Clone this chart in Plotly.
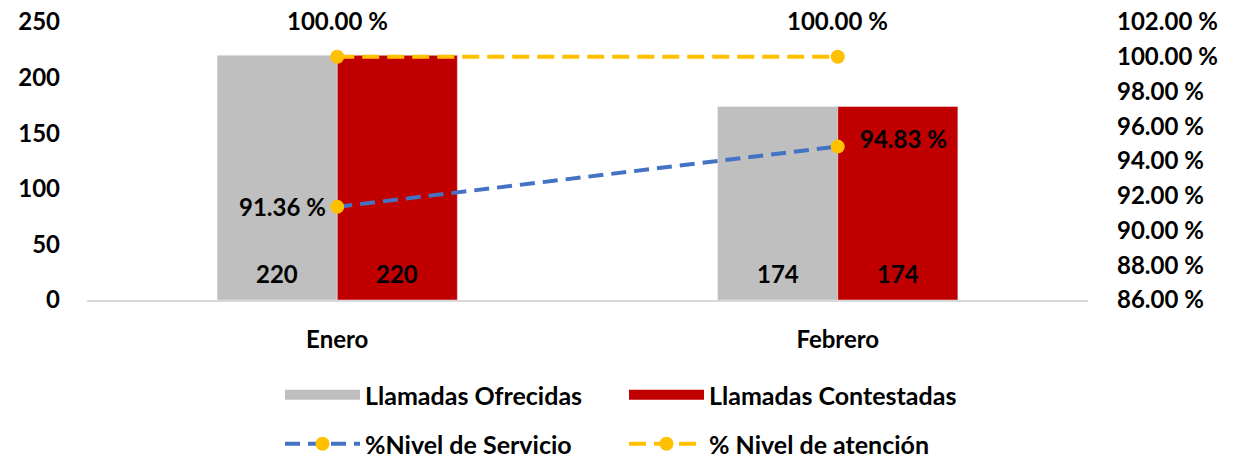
import plotly.graph_objects as go

categories = ["Enero", "Febrero"]
llamadas_ofrecidas = [220, 174]
llamadas_contestadas = [220, 174]
nivel_servicio = [91.36, 94.83]
nivel_atencion = [100.00, 100.00]
right_ticks = [86, 88, 90, 92, 94, 96, 98, 100, 102]

FONT = "Lato, Roboto, sans-serif"
GREY = "#BFBFBF"
RED = "#C00000"
BLUE = "#4472C4"
YELLOW = "#FFC000"
TXT = dict(family=FONT, size=24, color="black", weight="bold")
LEG = dict(family=FONT, size=25, color="black", weight="bold")

fig = go.Figure()
fig.add_trace(go.Bar(
    x=categories, y=llamadas_ofrecidas, name="Llamadas Ofrecidas",
    marker_color=GREY, showlegend=False,
))
fig.add_trace(go.Bar(
    x=categories, y=llamadas_contestadas, name="Llamadas Contestadas",
    marker_color=RED, showlegend=False,
))
# legend swatches for the bar series (wide rectangles like the reference)
fig.add_trace(go.Scatter(
    x=[None], y=[None], mode="lines", name="Llamadas Ofrecidas",
    line=dict(color=GREY, width=14), legend="legend", hoverinfo="skip",
))
fig.add_trace(go.Scatter(
    x=[None], y=[None], mode="lines", name="Llamadas Contestadas",
    line=dict(color=RED, width=14), legend="legend", hoverinfo="skip",
))
fig.add_trace(go.Scatter(
    x=categories, y=nivel_servicio, name="%Nivel de Servicio", yaxis="y2",
    mode="lines+markers", line=dict(color=BLUE, width=4, dash="15px,8px"),
    marker=dict(color=YELLOW, size=14), legend="legend2",
))
fig.add_trace(go.Scatter(
    x=categories, y=nivel_atencion, name="% Nivel de atención", yaxis="y2",
    mode="lines+markers", line=dict(color=YELLOW, width=4, dash="17px,8px"),
    marker=dict(color=YELLOW, size=14), legend="legend2",
))

annotations = []
for c, v1, v2 in zip(categories, llamadas_ofrecidas, llamadas_contestadas):
    annotations.append(dict(x=c, y=0, xref="x", yref="y", text=str(v1),
                            showarrow=False, xshift=-60, yshift=27,
                            xanchor="center", yanchor="middle", font=TXT))
    annotations.append(dict(x=c, y=0, xref="x", yref="y", text=str(v2),
                            showarrow=False, xshift=60, yshift=27,
                            xanchor="center", yanchor="middle", font=TXT))
for c, v in zip(categories, nivel_atencion):
    annotations.append(dict(x=c, y=v, xref="x", yref="y2", text=f"{v:.2f} %",
                            showarrow=False, yshift=36, xanchor="center",
                            font=TXT))
annotations.append(dict(x=categories[0], y=nivel_servicio[0], xref="x", yref="y2",
                        text=f"{nivel_servicio[0]:.2f} %", showarrow=False,
                        xanchor="right", xshift=-9, yshift=0, font=TXT))
annotations.append(dict(x=categories[1], y=nivel_servicio[1], xref="x", yref="y2",
                        text=f"{nivel_servicio[1]:.2f} %", showarrow=False,
                        xanchor="left", xshift=20, yshift=8, font=TXT))

fig.update_layout(
    width=1244, height=457,
    margin=dict(l=87, r=156, t=22, b=157, autoexpand=False),
    paper_bgcolor="white", plot_bgcolor="white",
    barmode="group", bargap=0.52, bargroupgap=0,
    font=TXT,
    xaxis=dict(showgrid=False, showline=True, linecolor="#D9D9D9", linewidth=2,
               ticks="", ticklabelstandoff=17, tickfont=TXT),
    yaxis=dict(range=[0, 250], dtick=50, showgrid=False, zeroline=False,
               showline=False, ticks="", ticklabelstandoff=26, tickfont=TXT),
    yaxis2=dict(range=[86, 102], tickvals=right_ticks,
                ticktext=[f"{t:.2f} %" for t in right_ticks],
                overlaying="y", side="right",
                showgrid=False, zeroline=False, showline=False, ticks="",
                ticklabelstandoff=28, tickfont=TXT),
    legend=dict(orientation="h", x=(280 - 87) / 1001, xanchor="left",
                y=(300 - 395) / 278, yanchor="middle",
                font=LEG, entrywidth=254, entrywidthmode="pixels", itemwidth=75,
                bgcolor="rgba(0,0,0,0)"),
    legend2=dict(orientation="h", x=(280 - 87) / 1001, xanchor="left",
                 y=(300 - 444) / 278, yanchor="middle",
                 font=LEG, entrywidth=254, entrywidthmode="pixels", itemwidth=75,
                 bgcolor="rgba(0,0,0,0)"),
    annotations=annotations,
    showlegend=True,
)

fig.write_html("out.html", config={"displayModeBar": False},
               post_script="document.body.style.margin='0';document.body.style.overflow='hidden';")
